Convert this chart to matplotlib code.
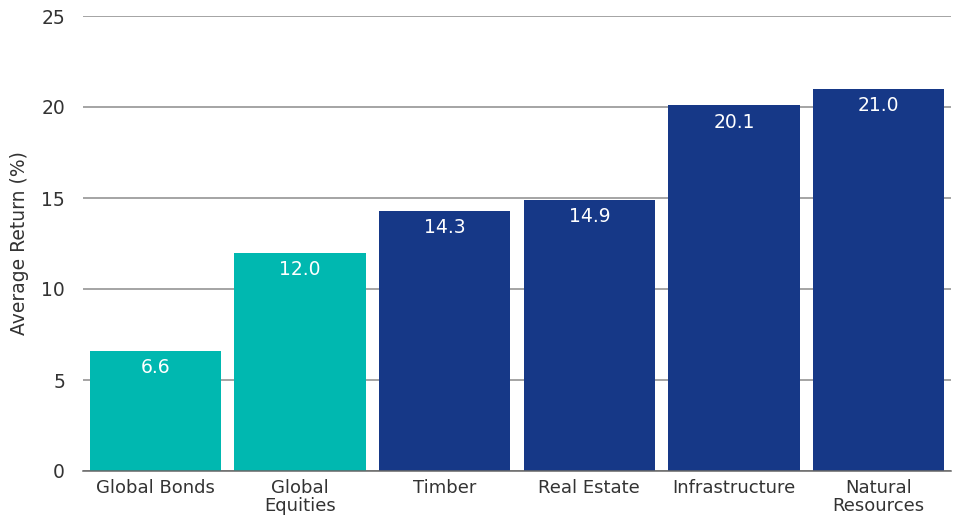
import matplotlib.pyplot as plt
import numpy as np

plt.rcParams['font.family'] = ['DejaVu Sans']

# Data
categories = ["Global Bonds", "Global\nEquities", "Timber", "Real Estate",
              "Infrastructure", "Natural\nResources"]
returns = [6.6, 12.0, 14.3, 14.9, 20.1, 21.0]
bar_colors = ["#00B8B0", "#00B8B0", "#163887", "#163887", "#163887", "#163887"]
y_ticks = [0, 5, 10, 15, 20, 25]

fig = plt.figure(figsize=(9.58, 5.17), dpi=100)
ax = fig.add_axes([83 / 958, 1 - 471 / 517, 868 / 958, 455 / 517])

x = np.arange(len(categories))
bars = ax.bar(x, returns, width=0.906, color=bar_colors, zorder=3)

for b, v in zip(bars, returns):
    ax.annotate(f"{v:.1f}", (b.get_x() + b.get_width() / 2, v),
                xytext=(0, -17), textcoords="offset pixels",
                ha="center", va="center", color="white", fontsize=13.5, zorder=4)

ax.set_xlim(-0.5, len(categories) - 0.5)
ax.set_ylim(0, 25)
ax.set_yticks(y_ticks)
ax.set_xticks(x)
ax.set_xticklabels(categories, fontsize=13, color="#333333", linespacing=0.95)
ax.tick_params(axis="y", length=0, pad=13, labelsize=13.5, labelcolor="#333333")
ax.tick_params(axis="x", length=0, pad=6)
ax.set_ylabel("Average Return (%)", fontsize=13.5, color="#333333", labelpad=9)

ax.grid(axis="y", color="#8c8c8c", linewidth=1.1, zorder=0)
for s in ["top", "right", "left"]:
    ax.spines[s].set_visible(False)
ax.spines["bottom"].set_color("#666666")
ax.spines["bottom"].set_linewidth(1.1)
ax.spines["bottom"].set_zorder(4)

fig.savefig("out.png", dpi=100)
